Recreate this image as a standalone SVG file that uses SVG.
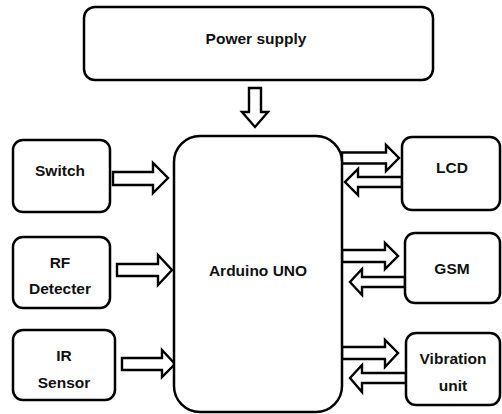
<svg xmlns="http://www.w3.org/2000/svg" width="502" height="414" viewBox="0 0 502 414">
<style>
.box{fill:#fff;stroke:#000;stroke-width:2.5}
.arr{fill:#fff;stroke:#000;stroke-width:2.4;stroke-linejoin:miter}
.t{font-family:"Liberation Sans",Arial,sans-serif;font-weight:bold;font-size:15.5px;fill:#111;text-anchor:middle;dominant-baseline:central}
</style>
<rect width="502" height="414" fill="#fff"/>
<g id="connectors">
<polygon class="arr" points="249,88 261,88 261,112 268,112 255,127 242,112 249,112"/>
<polygon class="arr" points="113,172 153,172 153,163 168,178 153,193 153,185 113,185"/>
<polygon class="arr" points="117,264 158,264 158,255 172,270 158,285 158,276 117,276"/>
<polygon class="arr" points="122,358 162,358 162,350 175,364 162,377 162,370 122,370"/>
<polygon class="arr" points="342,152.5 386,152.5 386,145 399,158 386,171 386,163.5 342,163.5"/>
<polygon class="arr" points="402,177 358,177 358,169 345,182 358,195 358,187 402,187"/>
<polygon class="arr" points="342,250 385,250 385,243 398,256 385,269 385,262 342,262"/>
<polygon class="arr" points="405,277 362,277 362,269 350,282 362,295 362,287 405,287"/>
<polygon class="arr" points="342,347 385,347 385,340 398,353 385,367 385,359 342,359"/>
<polygon class="arr" points="406,373 362,373 362,365 350,378 362,392 362,383 406,383"/>
</g>
<g id="power"><rect class="box" x="84" y="7" width="349" height="73" rx="11"/><text class="t" x="256" y="38">Power supply</text></g>
<g id="arduino"><rect class="box" x="174" y="136" width="168" height="276" rx="26"/><text class="t" x="258" y="270">Arduino UNO</text></g>
<g id="switch"><rect class="box" x="13" y="140" width="97" height="72" rx="10"/><text class="t" x="60" y="170">Switch</text></g>
<g id="rf"><rect class="box" x="13" y="237" width="97" height="71" rx="10"/><text class="t" x="60" y="262">RF</text><text class="t" x="60" y="288">Detecter</text></g>
<g id="ir"><rect class="box" x="13" y="330" width="102" height="70" rx="10"/><text class="t" x="64" y="355">IR</text><text class="t" x="64" y="382">Sensor</text></g>
<g id="lcd"><rect class="box" x="402" y="137" width="98" height="73" rx="10"/><text class="t" x="452" y="167">LCD</text></g>
<g id="gsm"><rect class="box" x="405" y="233" width="95" height="70" rx="10"/><text class="t" x="452" y="268">GSM</text></g>
<g id="vibration"><rect class="box" x="406" y="333" width="94" height="72" rx="10"/><text class="t" x="453" y="358">Vibration</text><text class="t" x="453" y="385">unit</text></g>
</svg>
